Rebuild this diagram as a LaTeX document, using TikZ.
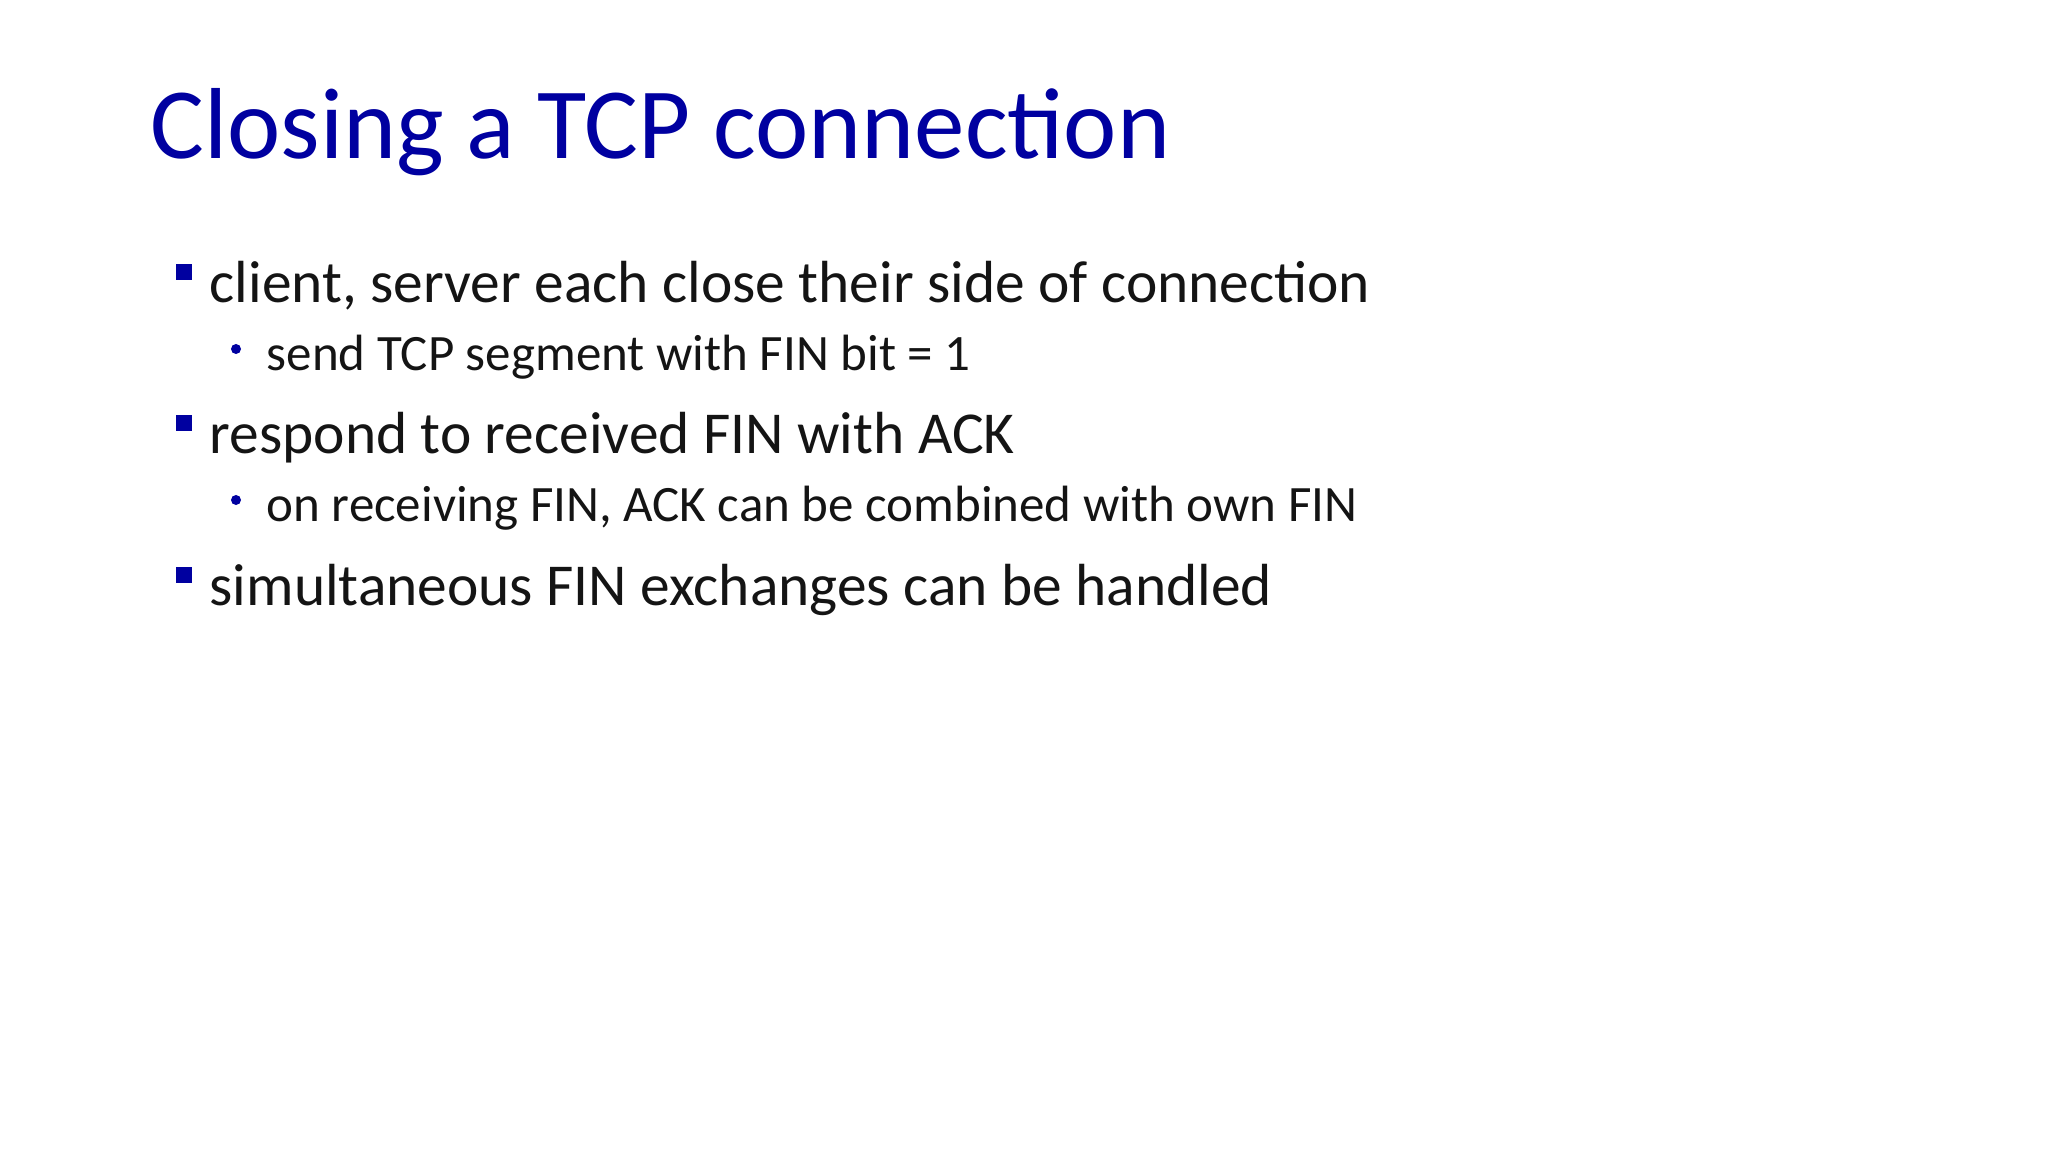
\documentclass[tikz,border=0pt]{standalone}
\usepackage{fontspec}
\setmainfont{Carlito}
\definecolor{tblue}{RGB}{0,0,160}
\definecolor{btxt}{RGB}{20,20,20}
\begin{document}
\begin{tikzpicture}[x=0.01cm,y=-0.01cm,
  lvlone/.style={anchor=base west,inner sep=0,text=btxt,font=\fontsize{16.9}{20}\selectfont},
  lvltwo/.style={anchor=base west,inner sep=0,text=btxt,font=\fontsize{14.5}{17}\selectfont},
  sq/.style={fill=tblue,draw=none,minimum size=0.16cm,inner sep=0},
  dot/.style={circle,fill=tblue,draw=none,minimum size=0.1cm,inner sep=0}]
\useasboundingbox (0,0) rectangle (2048,1152);
\node[anchor=base west,inner sep=0,text=tblue,font=\fontsize{28.7}{32}\selectfont] (title) at (150,159) {Closing a TCP connection};
\node[sq] (s1) at (184,272) {};
\node[lvlone] (b1) at (209,303) {client, server each close their side of connection};
\node[dot] (d1) at (236,349) {};
\node[lvltwo] (c1) at (266,371) {send TCP segment with FIN bit = 1};
\node[sq] (s2) at (184,423) {};
\node[lvlone] (b2) at (209,454) {respond to received FIN with ACK};
\node[dot] (d2) at (236,500) {};
\node[lvltwo] (c2) at (266,522) {on receiving FIN, ACK can be combined with own FIN};
\node[sq] (s3) at (184,575) {};
\node[lvlone] (b3) at (209,606) {simultaneous FIN exchanges can be handled};
\end{tikzpicture}
\end{document}
